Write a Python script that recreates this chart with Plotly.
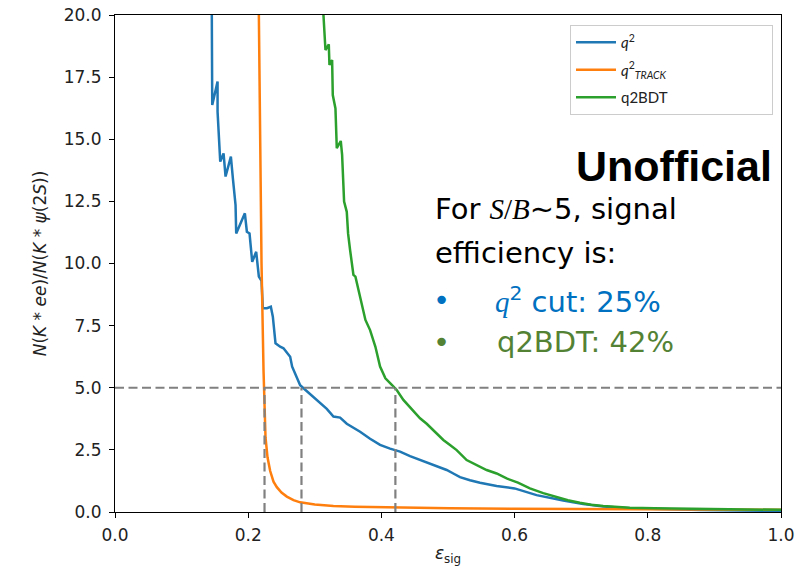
import plotly.graph_objects as go

# ---- data ----
eff_q2 = [0.145, 0.146, 0.146, 0.154, 0.154, 0.158, 0.163, 0.166, 0.174, 0.177, 0.181, 0.182,
          0.195, 0.198, 0.202, 0.206, 0.212, 0.216, 0.220, 0.222, 0.228, 0.234, 0.237, 0.241,
          0.248, 0.253, 0.263, 0.266, 0.271, 0.278, 0.286, 0.295, 0.303, 0.313, 0.318, 0.328,
          0.338, 0.348, 0.358, 0.368, 0.383, 0.398, 0.413, 0.428, 0.443, 0.458, 0.473, 0.488,
          0.498, 0.508, 0.518, 0.533, 0.548, 0.573, 0.600, 0.633, 0.653, 0.673, 0.703, 0.733,
          0.773, 0.820, 0.880, 0.940, 1.000]
ratio_q2 = [22.0, 17.99, 16.38, 17.32, 16.11, 14.10, 14.43, 13.50, 14.30, 13.43, 12.35, 11.21,
            12.02, 11.28, 11.21, 10.07, 10.47, 9.47, 9.30, 8.20, 8.20, 8.26, 7.86, 6.79,
            6.65, 6.59, 6.25, 5.85, 5.51, 5.10, 4.91, 4.70, 4.51, 4.25, 4.15, 3.84,
            3.80, 3.55, 3.40, 3.23, 2.95, 2.70, 2.55, 2.43, 2.25, 2.09, 1.96, 1.80,
            1.69, 1.55, 1.40, 1.28, 1.18, 1.05, 0.95, 0.68, 0.56, 0.46, 0.32, 0.22,
            0.15, 0.11, 0.08, 0.06, 0.05]

eff_track = [0.216, 0.216, 0.218, 0.220, 0.223, 0.224, 0.226, 0.229, 0.233, 0.238, 0.243, 0.250,
             0.258, 0.268, 0.278, 0.300, 0.328, 0.360, 0.403, 0.450, 0.503, 0.600, 0.700, 0.800,
             0.900, 1.000]
ratio_track = [22.0, 20.0, 15.0, 10.0, 5.7, 5.0, 3.0, 2.2, 1.65, 1.22, 1.0, 0.78,
               0.62, 0.48, 0.39, 0.30, 0.24, 0.21, 0.19, 0.17, 0.15, 0.13, 0.12, 0.11,
               0.10, 0.09]

eff_bdt = [0.313, 0.313, 0.316, 0.321, 0.322, 0.326, 0.327, 0.331, 0.333, 0.339, 0.341, 0.344,
           0.348, 0.350, 0.353, 0.358, 0.361, 0.368, 0.376, 0.383, 0.391, 0.398, 0.406, 0.416,
           0.423, 0.433, 0.438, 0.448, 0.458, 0.468, 0.478, 0.493, 0.503, 0.513, 0.528, 0.533,
           0.545, 0.558, 0.573, 0.588, 0.605, 0.623, 0.643, 0.663, 0.680, 0.698, 0.715, 0.733,
           0.753, 0.773, 0.810, 0.848, 0.900, 0.950, 1.000]
ratio_bdt = [22.0, 20.0, 18.59, 18.82, 17.99, 18.19, 16.78, 16.24, 14.64, 14.93, 14.37, 12.49,
             12.08, 11.20, 10.54, 9.54, 9.47, 8.66, 7.73, 7.32, 6.65, 5.85, 5.38, 5.11,
             4.91, 4.51, 4.37, 4.05, 3.77, 3.55, 3.30, 2.90, 2.70, 2.49, 2.09, 2.02,
             1.85, 1.69, 1.55, 1.35, 1.18, 0.95, 0.76, 0.59, 0.47, 0.37, 0.29, 0.24,
             0.20, 0.17, 0.15, 0.13, 0.11, 0.10, 0.09]

sb_threshold = 5.0
eff_at_threshold = [0.2245, 0.280, 0.421]

x_ticks = [0.0, 0.2, 0.4, 0.6, 0.8, 1.0]
y_ticks = [0.0, 2.5, 5.0, 7.5, 10.0, 12.5, 15.0, 17.5, 20.0]

# ---- figure ----
W, H = 809, 566
ML, MR, MT, MB = 114.5, 28, 15, 54

legend_pad = "&nbsp;" * 26

fig = go.Figure()
fig.add_trace(go.Scatter(x=eff_q2, y=ratio_q2, mode="lines", name="<i>q</i><sup>2</sup>",
                         legendgroup="a", line=dict(color="#1f77b4", width=2.5)))
fig.add_trace(go.Scatter(x=eff_track, y=ratio_track, mode="lines",
                         name="<i>q</i><sup>2</sup><sub><i>TRACK</i></sub>",
                         legendgroup="b", line=dict(color="#ff7f0e", width=2.5)))
fig.add_trace(go.Scatter(x=eff_bdt, y=ratio_bdt, mode="lines", name="q2BDT" + legend_pad,
                         legendgroup="c", line=dict(color="#2ca02c", width=2.5)))

dash_style = dict(color="#808080", width=2.2, dash="9px,4.5px")
fig.add_trace(go.Scatter(x=[0.0, 1.0], y=[sb_threshold, sb_threshold], mode="lines",
                         line=dash_style, showlegend=False, hoverinfo="skip"))
for e in eff_at_threshold:
    fig.add_trace(go.Scatter(x=[e, e], y=[0.0, sb_threshold], mode="lines",
                             line=dash_style, showlegend=False, hoverinfo="skip"))

axis_common = dict(showline=True, linecolor="black", linewidth=1.2, mirror=True,
                   ticks="outside", ticklen=5, tickwidth=1.2, tickcolor="black",
                   showgrid=False, zeroline=False, automargin=False,
                   tickfont=dict(family="DejaVu Sans", size=17, color="#222"))

fig.update_xaxes(range=[0, 1], tickvals=x_ticks, tickformat=".1f", ticklabelstandoff=2,
                 title=dict(text="<i>ε</i><sub>sig</sub>", standoff=8,
                            font=dict(family="DejaVu Sans", size=17, color="#222")),
                 **axis_common)
fig.update_yaxes(range=[0, 20], tickvals=y_ticks, tickformat=".1f", ticklabelstandoff=4,
                 title=dict(text="<i>N</i>(<i>K</i> * <i>ee</i>)/<i>N</i>(<i>K</i> * <i>ψ</i>(2<i>S</i>))",
                            standoff=12,
                            font=dict(family="DejaVu Sans", size=17, color="#222")),
                 **axis_common)

def px2paper(px, py):
    return (px - ML) / (W - ML - MR), (H - MB - py) / (H - MT - MB)

annots = []
ux, uy = px2paper(774, 166)
annots.append(dict(x=ux, y=uy, text="<b>Unofficial</b>", xanchor="right", yanchor="middle",
                   font=dict(family="Liberation Sans", size=43, color="black")))
serif = "font-family:Liberation Serif"
lines = [
    (433, 209, "For <span style='%s'><i>S</i>/<i>B</i></span>∼5, signal" % serif, "black"),
    (433, 253, "efficiency is:", "black"),
    (493, 300, "<span style='%s'><i>q</i></span><sup>2</sup> cut: 25%%" % serif, "#0070c0"),
    (495, 342, "q2BDT: 42%", "#548235"),
]
for px, py, t, c in lines:
    ax, ay = px2paper(px, py)
    annots.append(dict(x=ax, y=ay, text=t, xanchor="left", yanchor="middle",
                       font=dict(family="DejaVu Sans", size=29, color=c)))
bullets = [(441, 300, "#0070c0"), (441, 342, "#548235")]
for px, py, c in bullets:
    ax, ay = px2paper(px, py)
    annots.append(dict(x=ax, y=ay, text="•", xanchor="center", yanchor="middle",
                       font=dict(family="DejaVu Sans", size=29, color=c)))
for a in annots:
    fig.add_annotation(xref="paper", yref="paper", showarrow=False, **a)

lx, ly = px2paper(773, 25)
fig.update_layout(
    width=W, height=H,
    margin=dict(l=ML, r=MR, t=MT, b=MB, pad=0),
    paper_bgcolor="white", plot_bgcolor="white",
    showlegend=True,
    legend=dict(x=lx, y=ly, xanchor="right", yanchor="top",
                bgcolor="rgba(255,255,255,0.8)", bordercolor="#cccccc", borderwidth=1,
                font=dict(family="Lato", size=15, color="#222"),
                itemwidth=40, tracegroupgap=5),
)

fig.write_html("out.html")
